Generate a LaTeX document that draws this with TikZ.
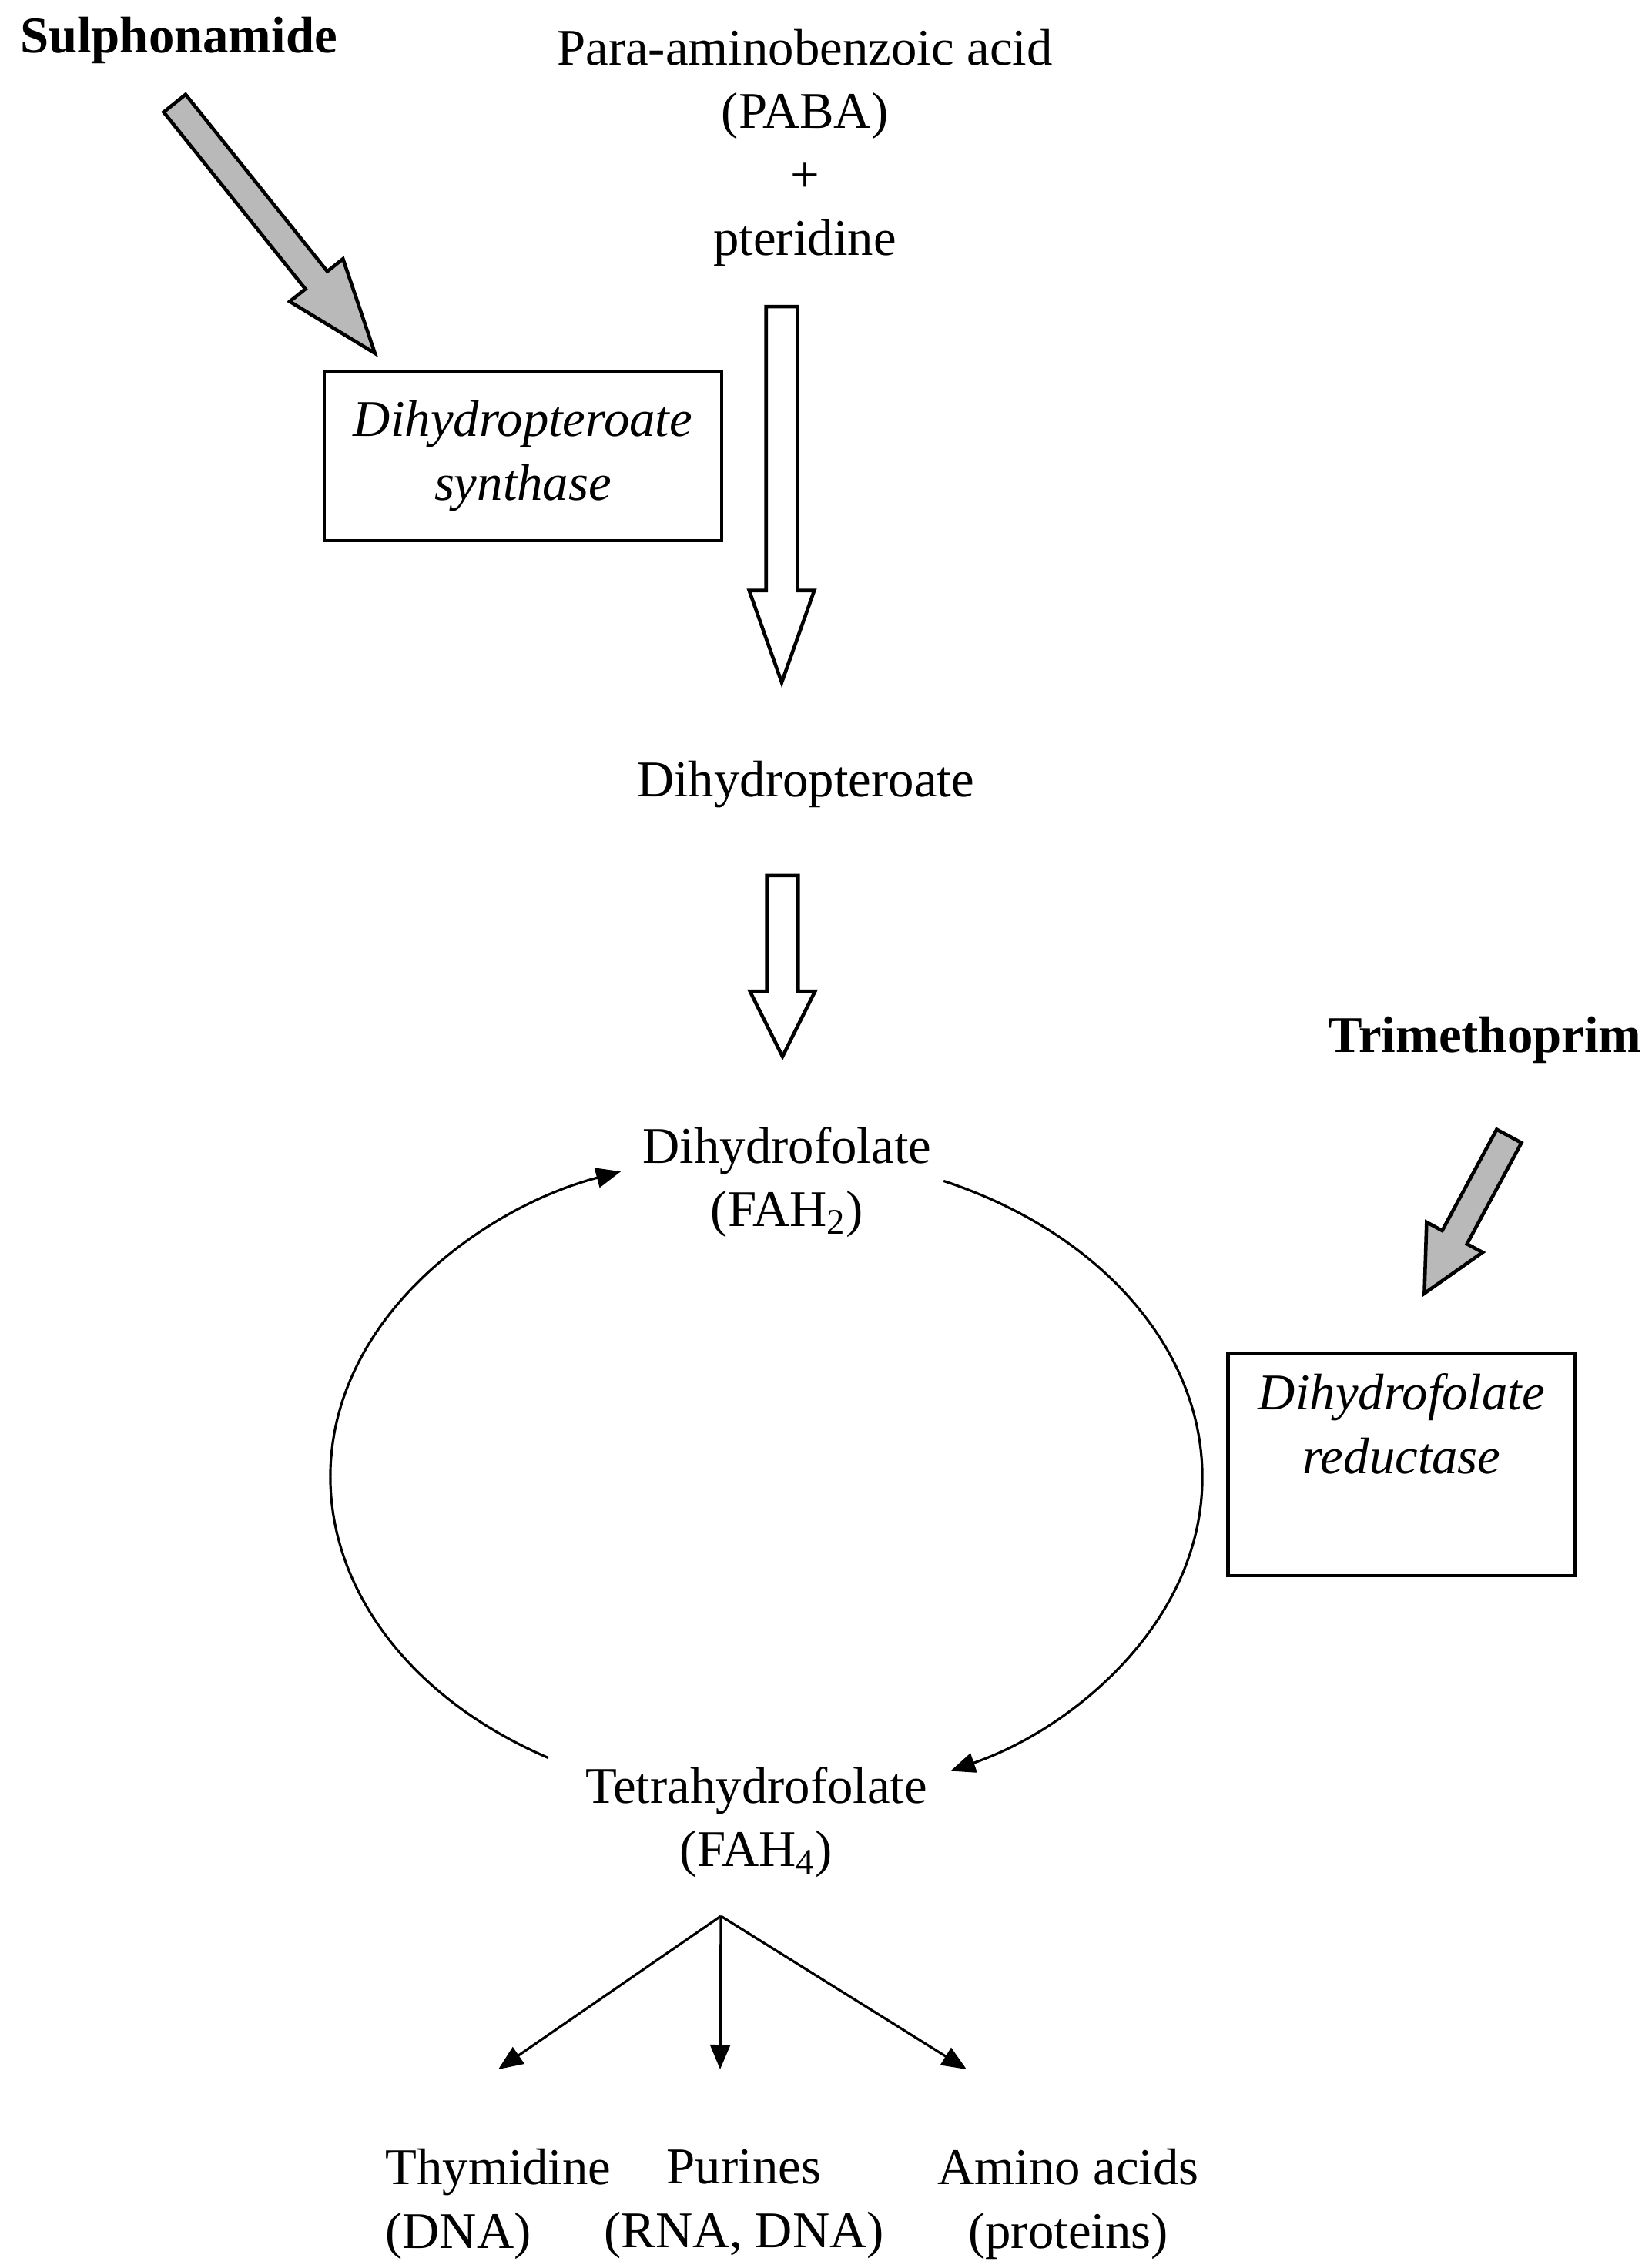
\documentclass[tikz,border=0pt]{standalone}
\usepackage{fontspec}
\setmainfont{Liberation Serif}
\usetikzlibrary{arrows.meta,shapes.arrows,positioning}

\begin{document}
\begin{tikzpicture}[
  lbl/.style={font=\fontsize{19}{23.5}\selectfont, align=center, inner sep=0pt},
  drug/.style={lbl, font=\bfseries\fontsize{19}{23.5}\selectfont},
  enzbox/.style={draw, line width=1.2pt, inner sep=0pt, font=\itshape\fontsize{19}{23.5}\selectfont, align=center},
  fat/.style={single arrow, draw, line width=1.3pt, inner xsep=0pt, anchor=tip},
  block/.style={fat, fill=gray!55, inner ysep=0.16cm},
  flow/.style={fat, fill=white, inner ysep=0.18cm, single arrow head extend=0.22cm},
  thin/.style={line width=0.9pt, -{Triangle[length=3.2mm,width=2.6mm]}}
]
  \useasboundingbox (0,0) rectangle (21.44,-29.45);

  % substrates and products
  \node[lbl] (paba) at (10.45,-1.92) {Para-aminobenzoic acid\\(PABA)\\+\\pteridine};
  \node[lbl] (dhp) at (10.46,-10.19) {Dihydropteroate};
  \node[lbl] (dhf) at (10.22,-15.35) {Dihydrofolate\\(FAH\textsubscript{2})};
  \node[lbl] (thf) at (9.82,-23.66) {Tetrahydrofolate\\(FAH\textsubscript{4})};
  \node[lbl, align=left] (thym) at (6.47,-28.62) {Thymidine\\(DNA)};
  \node[lbl] (pur) at (9.66,-28.62) {Purines\\(RNA, DNA)};
  \node[lbl] (amino) at (13.87,-28.62) {Amino acids\\(proteins)};

  % enzymes and inhibitors
  \node[enzbox, minimum width=5.16cm, minimum height=2.2cm] (dhps) at (6.79,-5.92) {Dihydropteroate\\synthase};
  \node[enzbox, minimum width=4.51cm, minimum height=2.88cm] (dhfr) at (18.2,-19.02) {Dihydrofolate\\reductase\\ \strut};
  \node[drug] (sulfa) at (2.32,-0.52) {Sulphonamide};
  \node[drug] (tmp) at (19.28,-13.5) {Trimethoprim};

  % fat arrows
  \node[flow, rotate=-90, minimum height=4.88cm, single arrow tip angle=39] (step1) at (10.15,-8.93) {};
  \node[flow, rotate=-90, minimum height=2.35cm, single arrow tip angle=53] (step2) at (10.16,-13.77) {};
  \node[block, rotate=-51.3, minimum height=4.16cm,
        single arrow head extend=0.26cm, single arrow tip angle=40] (inh1) at (4.91,-4.64) {};
  \node[block, rotate=-118.3, minimum height=2.32cm,
        single arrow head extend=0.23cm, single arrow tip angle=53] (inh2) at (18.47,-16.84) {};

  % folate cycle
  \coordinate (cyc) at (9.95,-19.18);
  \draw[thin] (cyc) ++(240:5.66 and 4.21) arc[start angle=240, end angle=109.5, x radius=5.66, y radius=4.21];
  \draw[thin] (cyc) ++(66:5.66 and 4.21) arc[start angle=66, end angle=-65, x radius=5.66, y radius=4.21];

  % products of FAH4
  \coordinate (fork) at (9.36,-24.88);
  \coordinate (tipT) at (6.47,-26.87);
  \coordinate (tipP) at (9.35,-26.87);
  \coordinate (tipA) at (12.55,-26.87);
  \draw[thin] (fork) -- (tipT);
  \draw[thin] (fork) -- (tipP);
  \draw[thin] (fork) -- (tipA);
\end{tikzpicture}
\end{document}
